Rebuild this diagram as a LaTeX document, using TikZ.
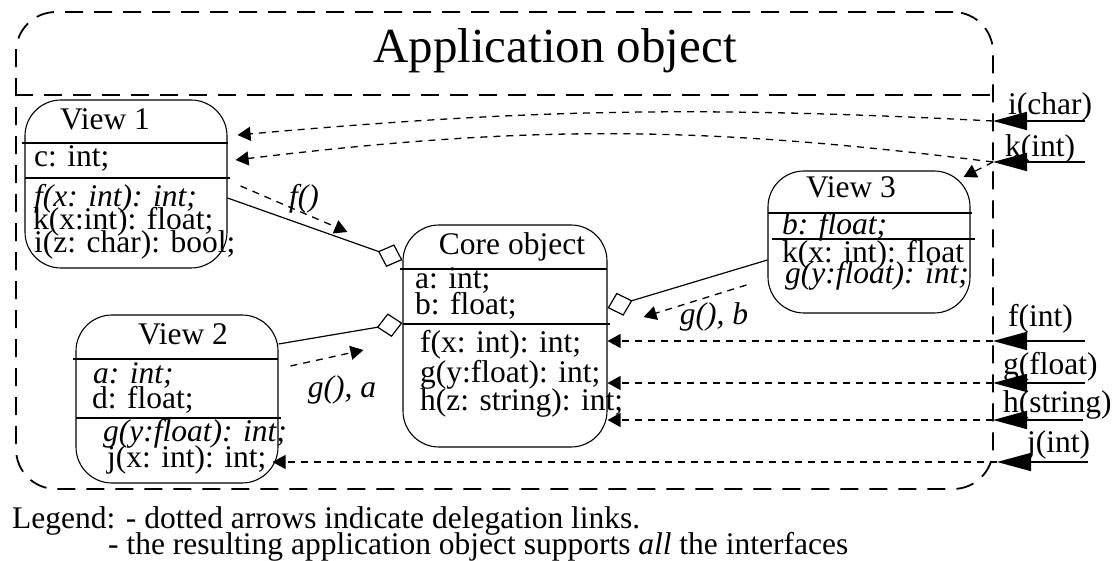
\documentclass[tikz,border=0pt]{standalone}
\usepackage{fontspec}
\setmainfont{Liberation Serif}
\usetikzlibrary{arrows.meta}

\begin{document}
\begin{tikzpicture}[
    x=1pt, y=-1pt,
    dashline/.style={line width=1.8pt, dash pattern=on 18pt off 11pt},
    appframe/.style={dashline, rectangle, draw, rounded corners=40pt, minimum width=977pt, minimum height=477pt},
    classbox/.style={rectangle, draw, line width=1.1pt, rounded corners=36pt},
    divider/.style={line width=2pt},
    txt/.style={anchor=base west, inner sep=0pt, font=\fontsize{31.5}{32}\selectfont},
    ital/.style={txt, font=\fontsize{31.5}{32}\selectfont\itshape},
    heading/.style={txt, anchor=base},
    deleg/.style={-{Triangle[length=13pt, width=14pt]}, line width=1.3pt, dash pattern=on 7pt off 6pt},
    aggr/.style={-{Diamond[open, length=26pt, width=24pt]}, line width=1.2pt},
    inport/.style={-{Triangle[length=34pt, width=18pt]}, line width=1.8pt}
]
\useasboundingbox (0,0) rectangle (1117,561);

% Application object
\node[appframe] (app) at (504.5,250.5) {};
\node[heading, font=\fontsize{49}{49}\selectfont] (apptitle) at (555,63) {Application object};
\draw[dashline] (app.west |- 0,95) -- (app.east |- 0,95);

% Views and core
\node[classbox, minimum width=202pt, minimum height=168pt] (v1) at (126,184) {};
\node[classbox, minimum width=202pt, minimum height=168pt] (v2) at (177,399) {};
\node[classbox, minimum width=204pt, minimum height=222pt] (core) at (505,336) {};
\node[classbox, minimum width=202pt, minimum height=142pt] (v3) at (869,242) {};

\draw[divider] (22,143) -- (228,143);
\draw[divider] (25,178) -- (230,178);
\draw[divider] (73,359) -- (278,359);
\draw[divider] (76,418) -- (281,418);
\draw[divider] (400,269) -- (607,269);
\draw[divider] (403,324) -- (610,324);
\draw[divider] (768,213) -- (972,213);
\draw[divider] (772,239) -- (975,239);

% View 1
\node[heading] (v1name) at (105,130) {View 1};
\node[txt] (v1c) at (34,167) {c: int;};
\node[ital] (v1f) at (34,207) {f(x: int): int;};
\node[txt] (v1k) at (33,230) {k(x:int): float;};
\node[txt] (v1i) at (34,253) {i(z: char): bool;};

% View 2
\node[heading] (v2name) at (183,345) {View 2};
\node[ital] (v2a) at (93,384) {a: int;};
\node[txt] (v2d) at (92,409) {d: float;};
\node[ital] (v2g) at (103,441) {g(y:float): int;};
\node[txt] (v2j) at (107,467) {j(x: int): int;};

% Core object
\node[heading] (corename) at (512,255) {Core object};
\node[txt] (corea) at (415,289) {a: int;};
\node[txt] (coreb) at (415,315) {b: float;};
\node[txt] (coref) at (420,353) {f(x: int): int;};
\node[txt] (coreg) at (420,383) {g(y:float): int;};
\node[txt] (coreh) at (420,410) {h(z: string): int;};

% View 3
\node[heading] (v3name) at (851,198) {View 3};
\node[ital] (v3b) at (782,235) {b: float;};
\node[txt] (v3k) at (782,263) {k(x: int): float};
\node[ital] (v3g) at (785,284) {g(y:float): int;};

% Interfaces
\coordinate (ichar) at (993,121);   \coordinate (ichar-src) at (1085,121);
\coordinate (kint) at (993,162);    \coordinate (kint-src) at (1085,162);
\coordinate (fint) at (993,341);    \coordinate (fint-src) at (1085,341);
\coordinate (gfloat) at (993,383);  \coordinate (gfloat-src) at (1085,383);
\coordinate (hstring) at (993,420); \coordinate (hstring-src) at (1083,420);
\coordinate (jint) at (997,462);    \coordinate (jint-src) at (1088,462);

\node[txt] (lichar) at (1008,115) {i(char)};
\node[txt] (lkint) at (1005,157) {k(int)};
\node[txt] (lfint) at (1008,327) {f(int)};
\node[txt] (lgfloat) at (1003,375) {g(float)};
\node[txt] (lhstring) at (1003,413) {h(string)};
\node[txt] (ljint) at (1027,452) {j(int)};

\draw[inport] (ichar-src) -- (ichar);
\draw[inport] (kint-src) -- (kint);
\draw[inport] (fint-src) -- (fint);
\draw[inport] (gfloat-src) -- (gfloat);
\draw[inport] (hstring-src) -- (hstring);
\draw[inport] (jint-src) -- (jint);

% Delegation links
\draw[deleg] (ichar) to[bend right=4] ([shift={(10,-49)}]v1.east);
\draw[deleg] (kint) to[bend right=7] ([shift={(8,-24)}]v1.east);
\draw[deleg] (kint) -- ([shift={(-7,-65)}]v3.east);
\draw[deleg] ([shift={(13,2)}]v1.east) -- ([shift={(-55,-104)}]core.west);
\draw[deleg] ([shift={(12,-33)}]v2.east) -- ([shift={(-39,14)}]core.west);
\draw[deleg] ([shift={(-21,43)}]v3.west) -- ([shift={(36,-19)}]core.east);
\draw[deleg] (fint) -- (fint -| core.east);
\draw[deleg] (gfloat) -- (gfloat -| core.east);
\draw[deleg] (hstring) -- (hstring -| core.east);
\draw[deleg, shorten >=-6pt] (jint) -- (jint -| v2.east);

\node[ital, anchor=base] (lf) at (304,207) {f()};
\node[ital, anchor=base] (lga) at (342,397) {g(), a};
\node[ital, anchor=base] (lgb) at (714,325) {g(), b};

% Aggregation
\draw[aggr] ([shift={(0,14)}]v1.east) -- ([shift={(0,-76)}]core.west);
\draw[aggr] ([shift={(0,-55)}]v2.east) -- ([shift={(0,-13)}]core.west);
\draw[aggr] ([shift={(0,18)}]v3.west) -- ([shift={(0,-28)}]core.east);

% Legend
\node[txt] (legend1) at (12,528) {Legend: - dotted arrows indicate delegation links.};
\node[txt] (legend2) at (108,554) {- the resulting application object supports \textit{all} the interfaces};

\end{tikzpicture}
\end{document}
